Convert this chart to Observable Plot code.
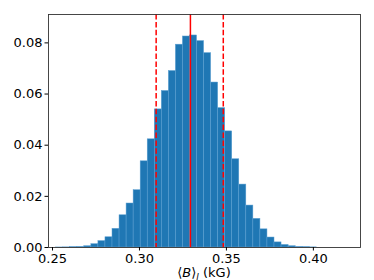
<!DOCTYPE html>
<html>
<head>
<meta charset="utf-8">
<script src="https://cdn.jsdelivr.net/npm/d3@7"></script>
<script src="https://cdn.jsdelivr.net/npm/@observablehq/plot@0.6"></script>
<style>
  html, body { margin: 0; padding: 0; background: #fff; }
  #chart { width: 374px; height: 280px; }
</style>
</head>
<body>
<div id="chart"></div>
<script>
// Histogram bin left edges (kG) and bin width
const binLeft = [0.25210, 0.25615, 0.26020, 0.26425, 0.26830, 0.27235, 0.27640, 0.28045, 0.28450, 0.28855,
                 0.29260, 0.29665, 0.30070, 0.30475, 0.30880, 0.31285, 0.31690, 0.32095, 0.32500, 0.32905,
                 0.33310, 0.33715, 0.34120, 0.34525, 0.34930, 0.35335, 0.35740, 0.36145, 0.36550, 0.36955,
                 0.37360, 0.37765, 0.38170, 0.38575, 0.38980, 0.39385, 0.39790];
const binWidth = 0.00405;
// Fraction per bin
const binValue = [0.00002, 0.00005, 0.0001, 0.0002, 0.0005, 0.0013, 0.0025, 0.0040, 0.0073, 0.0126,
                  0.0172, 0.0224, 0.0337, 0.0423, 0.0540, 0.0612, 0.0690, 0.0793, 0.0825, 0.0829,
                  0.0807, 0.0760, 0.0645, 0.0545, 0.0454, 0.0345, 0.0246, 0.0164, 0.0112, 0.0071,
                  0.0039, 0.0020, 0.0010, 0.0005, 0.0002, 0.0001, 0.00005];
// Reference lines
const medianValue = [0.3293];
const boundValues = [0.3096, 0.3482];
// Ticks
const xTicks = [0.25, 0.30, 0.35, 0.40];
const yTicks = [0.00, 0.02, 0.04, 0.06, 0.08];

const bins = binLeft.map((x1, i) => ({x1, x2: x1 + binWidth, y: binValue[i]}));

const chart = Plot.plot({
  width: 374,
  height: 280,
  marginLeft: 48,
  marginRight: 14,
  marginTop: 14,
  marginBottom: 33,
  style: {fontFamily: "DejaVu Sans", fontSize: "13px", background: "#fff", color: "#000"},
  x: {domain: [0.2477, 0.4271]},
  y: {domain: [0, 0.0911]},
  marks: [
    Plot.rectY(bins, {x1: "x1", x2: "x2", y: "y", fill: "#1f77b4", stroke: "#5b9fd2", strokeWidth: 0.5, inset: 0}),
    Plot.ruleX(boundValues, {stroke: "#ff0000", strokeWidth: 1.5, strokeDasharray: "5.5,2.4"}),
    Plot.ruleX(medianValue, {stroke: "#ff0000", strokeWidth: 1.5}),
    Plot.frame({stroke: "#333", strokeWidth: 0.9}),
    Plot.axisX({ticks: xTicks, tickFormat: d3.format(".2f"), tickSize: 3.5, tickPadding: 3, label: null, fontSize: 13}),
    Plot.axisY({ticks: yTicks, tickFormat: d3.format(".2f"), tickSize: 3.5, tickPadding: 2.5, label: null, fontSize: 13})
  ]
});

document.getElementById("chart").appendChild(chart);

// x-axis label ⟨B⟩_l (kG)
const svg = d3.select(chart);
const lab = svg.append("text")
  .attr("x", 204).attr("y", 277)
  .attr("text-anchor", "middle")
  .attr("font-family", "DejaVu Sans")
  .attr("font-size", 13)
  .attr("fill", "#000");
lab.append("tspan").text("⟨");
lab.append("tspan").attr("font-style", "italic").text("B");
lab.append("tspan").text("⟩");
lab.append("tspan").attr("font-style", "italic").attr("font-size", 9).attr("dy", 2.5).text("l");
lab.append("tspan").attr("dy", -2.5).text(" (kG)");
</script>
</body>
</html>
